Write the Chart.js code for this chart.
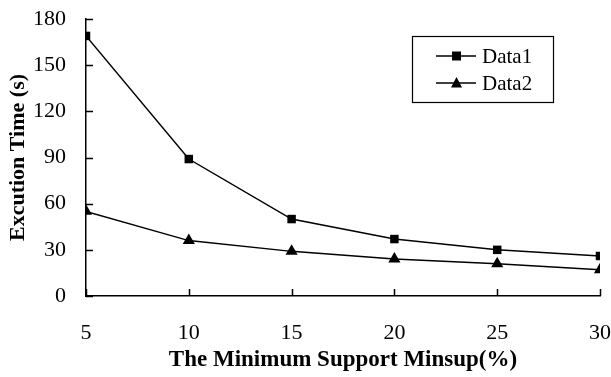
<!DOCTYPE html>
<html>
<head>
<meta charset="utf-8">
<script src="https://cdn.jsdelivr.net/npm/chart.js@4"></script>
<style>
  html, body { margin: 0; padding: 0; background: #fff; }
  #wrap { width: 611px; height: 377px; }
</style>
</head>
<body>
<div id="wrap"><canvas id="chart" width="611" height="377"></canvas></div>
<script>
// chart values
const minsup = [5, 10, 15, 20, 25, 30];
const data1 = [169, 89, 50, 37, 30, 26];
const data2 = [55, 36, 29, 24, 21, 17];
const seriesNames = ["Data1", "Data2"];
const yTicks = [0, 30, 60, 90, 120, 150, 180];

const serif = "'Liberation Serif', 'Times New Roman', serif";

function toPoints(xs, ys) {
  return xs.map((x, i) => ({ x: x, y: ys[i] }));
}

// inward tick marks on both axes
const innerTicks = {
  id: "innerTicks",
  afterDraw(chart) {
    const c = chart.ctx;
    const xs = chart.scales.x;
    const ys = chart.scales.y;
    const area = chart.chartArea;
    c.save();
    c.strokeStyle = "#000";
    c.lineWidth = 1.5;
    c.beginPath();
    minsup.forEach((v) => {
      const px = Math.round(xs.getPixelForValue(v)) + 0.5;
      c.moveTo(px, area.bottom);
      c.lineTo(px, area.bottom - 7);
    });
    yTicks.forEach((v) => {
      const py = Math.round(ys.getPixelForValue(v)) + 0.5;
      c.moveTo(area.left, py);
      c.lineTo(area.left + 7, py);
    });
    c.stroke();
    c.restore();
  },
};

// boxed legend inside the plot
const boxLegend = {
  id: "boxLegend",
  afterDraw(chart) {
    const c = chart.ctx;
    const x0 = 412, y0 = 36, w = 141, h = 66;
    c.save();
    c.fillStyle = "#fff";
    c.fillRect(x0, y0, w, h);
    c.strokeStyle = "#000";
    c.lineWidth = 1.2;
    c.strokeRect(x0 + 0.5, y0 + 0.5, w, h);
    c.font = "21px " + serif;
    c.textBaseline = "middle";
    chart.data.datasets.forEach((ds, i) => {
      const cy = y0 + 20 + i * 27;
      c.strokeStyle = "#000";
      c.lineWidth = 1.5;
      c.beginPath();
      c.moveTo(x0 + 24, cy);
      c.lineTo(x0 + 64, cy);
      c.stroke();
      c.fillStyle = "#000";
      if (ds.pointStyle === "rect") {
        c.fillRect(x0 + 40, cy - 4.5, 9, 9);
      } else {
        c.beginPath();
        c.moveTo(x0 + 44.5, cy - 6);
        c.lineTo(x0 + 50, cy + 4.5);
        c.lineTo(x0 + 39, cy + 4.5);
        c.closePath();
        c.fill();
      }
      c.fillText(ds.label, x0 + 70, cy + 1);
    });
    c.restore();
  },
};

const chart = new Chart(document.getElementById("chart"), {
  type: "line",
  data: {
    datasets: [
      {
        label: seriesNames[0],
        data: toPoints(minsup, data1),
        borderColor: "#000",
        backgroundColor: "#000",
        borderWidth: 1.5,
        pointStyle: "rect",
        pointRadius: 6,
        pointBorderWidth: 0,
      },
      {
        label: seriesNames[1],
        data: toPoints(minsup, data2),
        borderColor: "#000",
        backgroundColor: "#000",
        borderWidth: 1.5,
        pointStyle: "triangle",
        pointRadius: 7,
        pointBorderWidth: 0,
      },
    ],
  },
  options: {
    responsive: false,
    animation: false,
    layout: { padding: { top: 19, right: 11, left: 0, bottom: 0 } },
    plugins: {
      legend: { display: false },
      tooltip: { enabled: false },
    },
    scales: {
      x: {
        type: "linear",
        min: 5,
        max: 30,
        afterFit(scale) {
          scale.height = 81;
          scale.paddingLeft = 0;
          scale.paddingRight = 0;
        },
        afterBuildTicks(scale) { scale.ticks = minsup.map((v) => ({ value: v })); },
        grid: { display: false, drawTicks: false },
        border: { color: "#000", width: 1.5 },
        ticks: {
          color: "#000",
          padding: 24,
          maxRotation: 0,
          font: { family: serif, size: 22 },
        },
        title: {
          display: true,
          text: "The Minimum Support Minsup(%)",
          color: "#000",
          font: { family: serif, size: 23, weight: "bold" },
          padding: { top: 0, bottom: 3 },
        },
      },
      y: {
        min: 0,
        max: 180,
        afterFit(scale) {
          scale.width = 86;
          scale.paddingTop = 0;
          scale.paddingBottom = 0;
        },
        afterBuildTicks(scale) { scale.ticks = yTicks.map((v) => ({ value: v })); },
        grid: { display: false, drawTicks: false },
        border: { color: "#000", width: 1.5 },
        ticks: {
          color: "#000",
          padding: 20,
          font: { family: serif, size: 22 },
        },
        title: {
          display: true,
          text: "Excution Time (s)",
          color: "#000",
          font: { family: serif, size: 22, weight: "bold" },
          padding: { top: 5, bottom: 0 },
        },
      },
    },
  },
  plugins: [innerTicks, boxLegend],
});
</script>
</body>
</html>
